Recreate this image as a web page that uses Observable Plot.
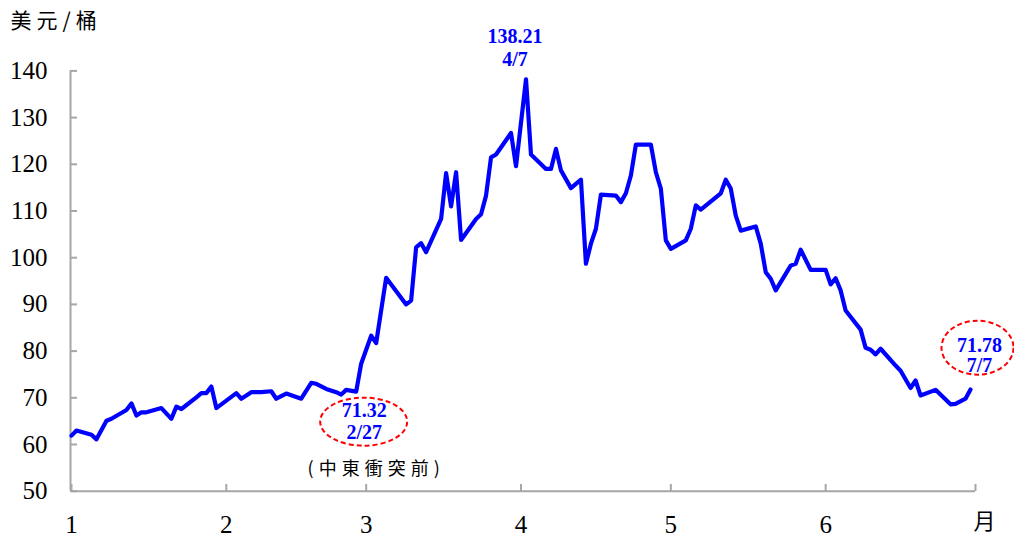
<!DOCTYPE html>
<html>
<head>
<meta charset="utf-8">
<script src="https://cdn.jsdelivr.net/npm/d3@7"></script>
<script src="https://cdn.jsdelivr.net/npm/@observablehq/plot@0.6"></script>
<style>
  html, body { margin: 0; padding: 0; background: #fff; }
</style>
</head>
<body>
<div id="chart"></div>
<script>
// ---- data ----
const dates = [
  "2026-01-01","2026-01-02","2026-01-05","2026-01-06","2026-01-08","2026-01-09","2026-01-12","2026-01-13",
  "2026-01-14","2026-01-15","2026-01-16","2026-01-19","2026-01-21","2026-01-22","2026-01-23","2026-01-26",
  "2026-01-27","2026-01-28","2026-01-29","2026-01-30","2026-02-03","2026-02-04","2026-02-06","2026-02-08",
  "2026-02-10","2026-02-11","2026-02-13","2026-02-16","2026-02-18","2026-02-19","2026-02-21","2026-02-23",
  "2026-02-24","2026-02-25","2026-02-27","2026-02-28","2026-03-02","2026-03-03","2026-03-05","2026-03-09",
  "2026-03-10","2026-03-11","2026-03-12","2026-03-13","2026-03-16","2026-03-17","2026-03-18","2026-03-19",
  "2026-03-20","2026-03-23","2026-03-24","2026-03-25","2026-03-26","2026-03-27","2026-03-30","2026-03-31",
  "2026-04-02","2026-04-03","2026-04-06","2026-04-07","2026-04-08","2026-04-09","2026-04-11","2026-04-13",
  "2026-04-14","2026-04-15","2026-04-16","2026-04-17","2026-04-20","2026-04-21","2026-04-22","2026-04-23",
  "2026-04-24","2026-04-27","2026-04-28","2026-04-29","2026-04-30","2026-05-01","2026-05-04","2026-05-05",
  "2026-05-06","2026-05-07","2026-05-11","2026-05-12","2026-05-13","2026-05-14","2026-05-15","2026-05-18",
  "2026-05-19","2026-05-20","2026-05-21","2026-05-22","2026-05-25","2026-05-26","2026-05-27","2026-05-29",
  "2026-06-01","2026-06-02","2026-06-03","2026-06-04","2026-06-05","2026-06-08","2026-06-09","2026-06-10",
  "2026-06-11","2026-06-12","2026-06-15","2026-06-16","2026-06-18","2026-06-19","2026-06-20","2026-06-23",
  "2026-06-26","2026-06-27","2026-06-29","2026-06-30"
];
const prices = [
  61.9, 63.0, 62.1, 61.1, 65.1, 65.5, 67.4, 68.8,
  66.2, 66.9, 66.9, 67.8, 65.5, 68.1, 67.6, 70.1,
  71.0, 71.0, 72.4, 67.8, 71.0, 69.8, 71.2, 71.2,
  71.4, 69.8, 70.9, 69.8, 73.2, 73.0, 71.9, 71.2,
  70.7, 71.7, 71.32, 77.3, 83.3, 81.7, 95.7, 90.0,
  90.8, 102.2, 103.1, 101.2, 108.3, 118.1, 111.0, 118.3,
  103.8, 108.3, 109.3, 113.3, 121.5, 122.1, 126.7, 119.6,
  138.21, 122.1, 119.0, 119.0, 123.3, 118.7, 114.9, 116.7,
  98.7, 103.0, 106.2, 113.5, 113.3, 111.9, 113.8, 117.6,
  124.2, 124.2, 118.3, 114.8, 103.7, 101.9, 103.7, 106.2,
  111.2, 110.3, 113.8, 116.7, 114.8, 109.0, 105.8, 106.7,
  103.0, 96.9, 95.5, 93.0, 98.3, 98.7, 101.7, 97.4,
  97.4, 94.3, 95.6, 93.0, 88.7, 84.6, 80.7, 80.3,
  79.3, 80.5, 76.9, 75.8, 72.1, 73.7, 70.5, 71.7,
  68.6, 68.7, 69.8, 71.78
];
const monthTicks = ["2026-01-01","2026-02-01","2026-03-01","2026-04-01","2026-05-01","2026-06-01","2026-07-01"];
const monthLabels = ["1","2","3","4","5","6",""];
const yTicks = [50, 60, 70, 80, 90, 100, 110, 120, 130, 140];
const yDomain = [50, 140];
const unitY = "美元/桶";
const unitX = "月";
const peakNote = {date: "2026-04-02", price: 138.21, label: "138.21\n4/7"};
const preNote = {date: "2026-02-27", price: 71.32, label: "71.32\n2/27", remark: "(中東衝突前)"};
const lastNote = {date: "2026-06-30", price: 71.78, label: "71.78\n7/7"};

// ---- build ----
const parse = s => new Date(s + "T00:00:00Z");
const series = dates.map((d, i) => ({date: parse(d), price: prices[i]}));
const tickDates = monthTicks.map(parse);
const labelOf = new Map(tickDates.map((d, i) => [+d, monthLabels[i]]));
const xDomain = [tickDates[0], tickDates[tickDates.length - 1]];
const noteRow = n => [{date: parse(n.date), price: n.price, label: n.label, remark: n.remark}];

const serif = "'Liberation Serif', 'Times New Roman', 'Noto Sans CJK TC', serif";
const cjk = "'Noto Sans CJK TC', sans-serif";
const axisGray = "#a6a6a6";
const blue = "#0000ff";
const red = "#ff0000";

const spaced = px => (index, scales, values, dims, ctx, next) => {
  const g = next(index, scales, values, dims, ctx);
  if (g) g.setAttribute("letter-spacing", px + "px");
  return g;
};

function ellipseMark(data, {dx, dy, rx, ry}) {
  return Plot.dot(data, {
    x: "date", y: "price", r: 1,
    render(index, scales, values) {
      const g = d3.create("svg:g");
      for (const i of index) {
        g.append("ellipse")
          .attr("cx", values.x[i] + dx).attr("cy", values.y[i] + dy)
          .attr("rx", rx).attr("ry", ry)
          .attr("fill", "none").attr("stroke", red)
          .attr("stroke-width", 2).attr("stroke-dasharray", "5,3");
      }
      return g.node();
    }
  });
}

const chart = Plot.plot({
  width: 1014,
  height: 538,
  marginTop: 70, marginBottom: 47, marginLeft: 71, marginRight: 39,
  style: {fontFamily: serif, fontSize: "25px", color: "black", background: "white", overflow: "visible"},
  x: {type: "utc", domain: xDomain, range: [71, 975]},
  y: {domain: yDomain, range: [490.7, 70.4]},
  marks: [
    // axis lines
    Plot.ruleX([xDomain[0]], {y1: yDomain[0], y2: yDomain[1], stroke: axisGray, strokeWidth: 2, dx: -1}),
    Plot.ruleY([yDomain[0]], {x1: xDomain[0], x2: xDomain[1], stroke: axisGray, strokeWidth: 2}),
    Plot.axisY({
      ticks: yTicks, tickSize: -7, tickPadding: 30, stroke: axisGray, strokeWidth: 2,
      fill: "black", fontSize: 25, label: null, dx: -1
    }),
    Plot.axisX({
      ticks: tickDates, tickSize: -7, tickPadding: 31, stroke: axisGray, strokeWidth: 2,
      fill: "black", fontSize: 25, label: null, tickFormat: d => labelOf.get(+d)
    }),
    // units
    Plot.text([unitY], {frameAnchor: "top-left", text: d => d, dx: -61, dy: -49, textAnchor: "start",
      lineAnchor: "middle", fontSize: 21, fontFamily: cjk, fill: "black", render: spaced(5)}),
    Plot.text([unitX], {x: [xDomain[1]], y: [yDomain[0]], text: d => d, dx: 9, dy: 31,
      lineAnchor: "middle", fontSize: 22, fontFamily: cjk, fill: "black"}),
    // series
    Plot.line(series, {x: "date", y: "price", stroke: blue, strokeWidth: 4.2, strokeLinejoin: "round", curve: "linear"}),
    // annotations
    Plot.text(noteRow(peakNote), {x: "date", y: "price", text: "label", dx: -11, dy: -13,
      lineAnchor: "bottom", lineHeight: 1.16, fontSize: 20, fontWeight: "bold", fill: blue}),
    Plot.text(noteRow(preNote), {x: "date", y: "price", text: "label", dx: 8, dy: 47,
      lineAnchor: "bottom", lineHeight: 1.1, fontSize: 20, fontWeight: "bold", fill: blue}),
    Plot.text(noteRow(preNote), {x: "date", y: "price", text: "remark", dx: 20, dy: 78,
      lineAnchor: "middle", fontSize: 18, fill: "black", fontFamily: cjk, render: spaced(5)}),
    Plot.text(noteRow(lastNote), {x: "date", y: "price", text: "label", dx: 9, dy: -17,
      lineAnchor: "bottom", lineHeight: 1.04, fontSize: 20, fontWeight: "bold", fill: blue}),
    ellipseMark(noteRow(preNote), {dx: 8, dy: 30.5, rx: 43.5, ry: 24}),
    ellipseMark(noteRow(lastNote), {dx: 7.5, dy: -41.3, rx: 36, ry: 27})
  ]
});
document.getElementById("chart").appendChild(chart);
</script>
</body>
</html>
